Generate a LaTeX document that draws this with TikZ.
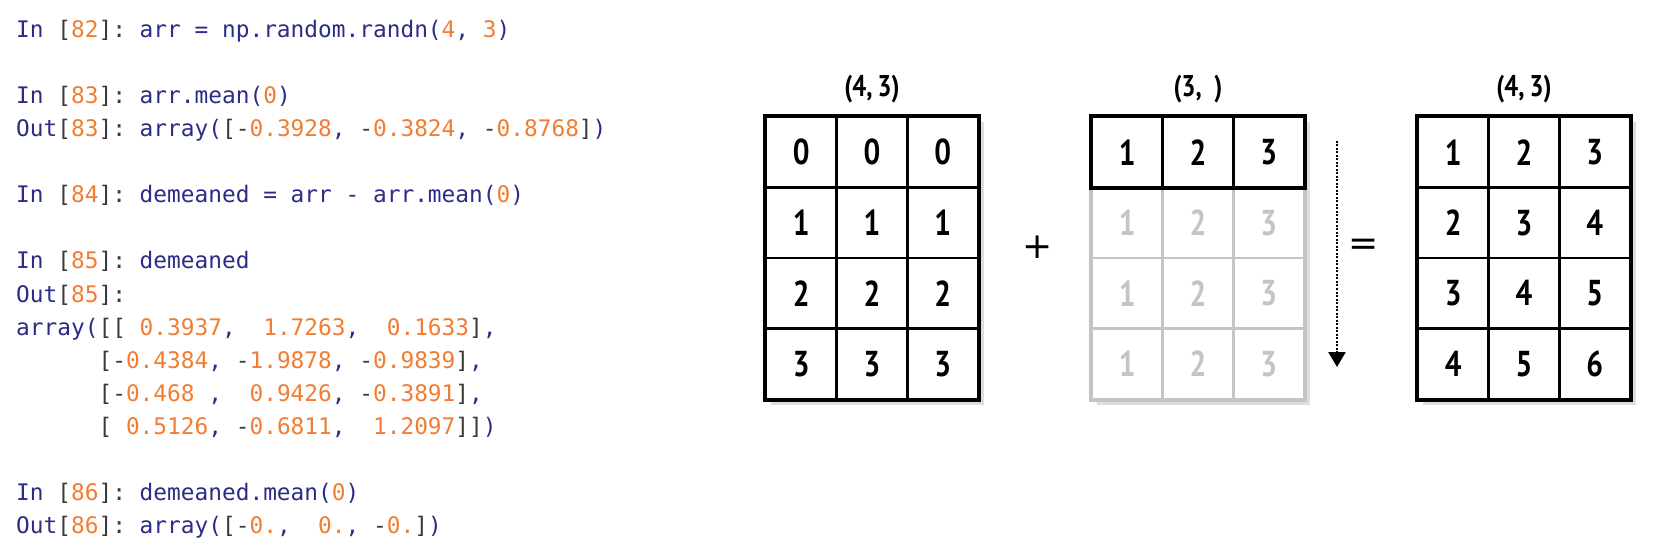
\documentclass[tikz,border=0pt]{standalone}
\usepackage{fontspec}
\usetikzlibrary{arrows.meta}
\setmonofont{DejaVu Sans Mono}
\newfontfamily\gridfont{PT Sans}[FakeStretch=0.82]
\newfontfamily\signfont{DejaVu Sans}
\definecolor{cnavy}{HTML}{2B2B88}
\definecolor{corange}{HTML}{F07D32}
\definecolor{cdark}{HTML}{3A3A3A}
\definecolor{lightcell}{HTML}{C4C4C4}
\newcommand\cn[1]{\textcolor{cnavy}{#1}}
\newcommand\co[1]{\textcolor{corange}{#1}}
\newcommand\ck[1]{\textcolor{cdark}{#1}}
\tikzset{
  codeline/.style={anchor=base west, inner sep=0pt, font=\ttfamily\fontsize{22.8}{22.8}\selectfont},
  cell/.style={draw=black, line width=2.5pt, fill=white, minimum width=70.67pt, minimum height=70.5pt, inner sep=0pt, font=\gridfont\bfseries\fontsize{36}{36}\selectfont},
  ghostcell/.style={cell, draw=lightcell, text=lightcell},
  outer/.style={draw=black, line width=3.5pt},
  shapelabel/.style={inner sep=0pt, font=\gridfont\bfseries\fontsize{30}{30}\selectfont},
  sign/.style={inner sep=0pt, font=\signfont\fontsize{36}{36}\selectfont},
  shadowbox/.style={fill=black, fill opacity=0.13, draw=none}
}
\begin{document}
\begin{tikzpicture}[x=1pt,y=-1pt]
\useasboundingbox (0,0) rectangle (1658,556);
% code
\def\bl{38}\def\lp{33}\def\cx{16}
\node[codeline] (l0) at (\cx,{\bl+0*\lp}) {\cn{In} \ck{[}\co{82}\ck{]:} \cn{arr = np.random.randn(}\co{4}\cn{,} \co{3}\cn{)}};
\node[codeline] (l2) at (\cx,{\bl+2*\lp}) {\cn{In} \ck{[}\co{83}\ck{]:} \cn{arr.mean(}\co{0}\cn{)}};
\node[codeline] (l3) at (\cx,{\bl+3*\lp}) {\cn{Out}\ck{[}\co{83}\ck{]:} \cn{array(}\ck{[-}\co{0.3928}\cn{,} \ck{-}\co{0.3824}\cn{,} \ck{-}\co{0.8768}\ck{]}\cn{)}};
\node[codeline] (l5) at (\cx,{\bl+5*\lp}) {\cn{In} \ck{[}\co{84}\ck{]:} \cn{demeaned = arr - arr.mean(}\co{0}\cn{)}};
\node[codeline] (l7) at (\cx,{\bl+7*\lp}) {\cn{In} \ck{[}\co{85}\ck{]:} \cn{demeaned}};
\node[codeline] (l8) at (\cx,{\bl+8*\lp}) {\cn{Out}\ck{[}\co{85}\ck{]:}};
\node[codeline] (l9) at (\cx,{\bl+9*\lp}) {\cn{array(}\ck{[[}\ \co{0.3937}\cn{,}\ \ \co{1.7263}\cn{,}\ \ \co{0.1633}\ck{]}\cn{,}};
\node[codeline] (l10) at (\cx,{\bl+10*\lp}) {\phantom{array(}\ck{[-}\co{0.4384}\cn{,}\ \ck{-}\co{1.9878}\cn{,}\ \ck{-}\co{0.9839}\ck{]}\cn{,}};
\node[codeline] (l11) at (\cx,{\bl+11*\lp}) {\phantom{array(}\ck{[-}\co{0.468}\ \cn{,}\ \ \co{0.9426}\cn{,}\ \ck{-}\co{0.3891}\ck{]}\cn{,}};
\node[codeline] (l12) at (\cx,{\bl+12*\lp}) {\phantom{array(}\ck{[}\ \co{0.5126}\cn{,}\ \ck{-}\co{0.6811}\cn{,}\ \ \co{1.2097}\ck{]]}\cn{)}};
\node[codeline] (l14) at (\cx,{\bl+14*\lp}) {\cn{In} \ck{[}\co{86}\ck{]:} \cn{demeaned.mean(}\co{0}\cn{)}};
\node[codeline] (l15) at (\cx,{\bl+15*\lp}) {\cn{Out}\ck{[}\co{86}\ck{]:} \cn{array(}\ck{[-}\co{0.}\cn{,}\ \ \co{0.}\cn{,}\ \ck{-}\co{0.}\ck{]}\cn{)}};
% shadows
\foreach \gx in {766,1092,1418}{
  \fill[shadowbox] (\gx+3,120) rectangle (\gx+212+3,399+3);
  \fill[shadowbox] (\gx+5,122) rectangle (\gx+212+6,399+6);
}
% grid A
\foreach \r in {1,...,4}{\foreach \c in {1,2,3}{
  \pgfmathtruncatemacro\v{\r-1}
  \node[cell] (A-\r-\c) at ({766+(\c-0.5)*70.67},{117+(\r-0.5)*70.5}) {\v};
}}
\draw[outer] (A-1-1.north west) rectangle (A-4-3.south east);
% grid B
\foreach \r in {2,3,4}{\foreach \c in {1,2,3}{
  \node[ghostcell] (B-\r-\c) at ({1092+(\c-0.5)*70.67},{117+(\r-0.5)*70.5}) {\c};
}}
\draw[draw=lightcell, line width=3.5pt] (B-2-1.north west) rectangle (B-4-3.south east);
\foreach \c in {1,2,3}{
  \node[cell] (B-1-\c) at ({1092+(\c-0.5)*70.67},{117+0.5*70.5}) {\c};
}
\draw[outer] (B-1-1.north west) rectangle (B-1-3.south east);
% grid C
\foreach \r in {1,...,4}{\foreach \c in {1,2,3}{
  \pgfmathtruncatemacro\v{\r+\c-1}
  \node[cell] (C-\r-\c) at ({1418+(\c-0.5)*70.67},{117+(\r-0.5)*70.5}) {\v};
}}
\draw[outer] (C-1-1.north west) rectangle (C-4-3.south east);
% labels
\node[shapelabel] (labA) at (872,89) {(4,\,3)};
\node[shapelabel] (labB) at (1198,89) {(3,\ \ )};
\node[shapelabel] (labC) at (1524,89) {(4,\,3)};
% signs
\node[sign] (plus) at (1038,247) {+};
\node[sign] (eq) at (1364,247) {=};
% arrow
\coordinate (arrS) at (1337,141);
\coordinate (arrE) at (1337,367);
\draw[line width=2.5pt, dash pattern=on 2pt off 1.5pt, -{Triangle[width=17pt,length=15pt]}] (arrS) -- (arrE);
\end{tikzpicture}
\end{document}
